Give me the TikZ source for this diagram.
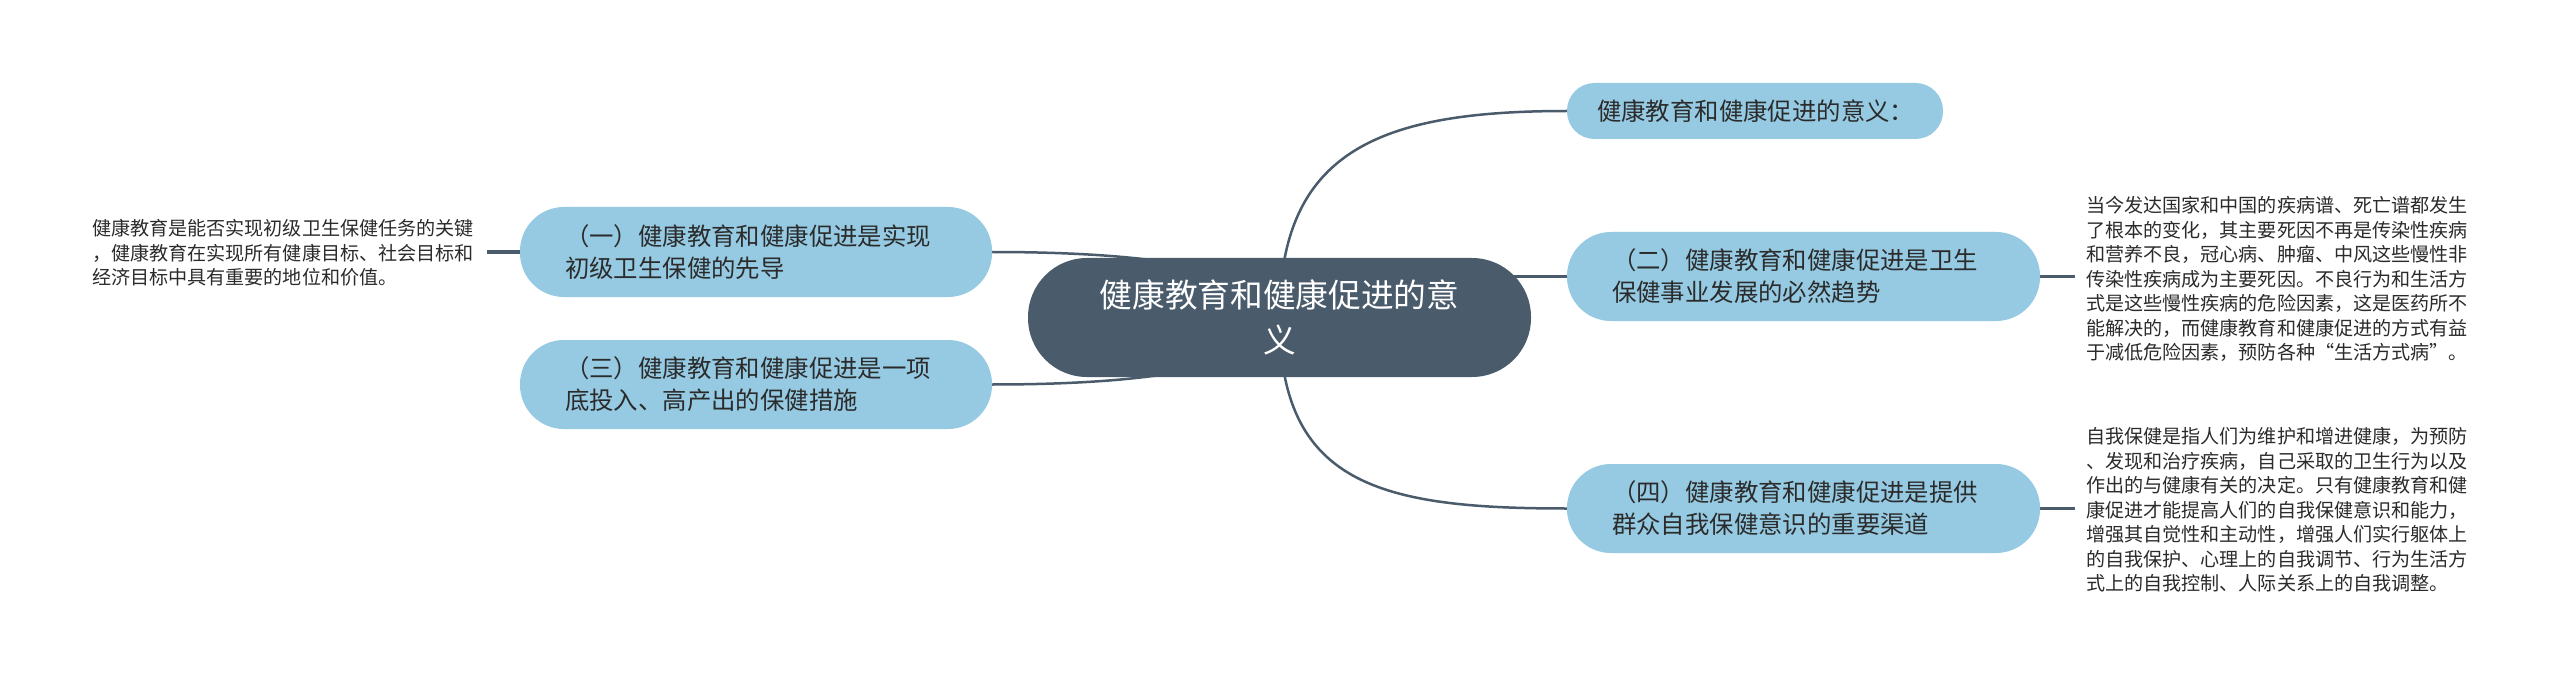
\documentclass[tikz,border=0pt]{standalone}
\usepackage{fontspec}
\newfontfamily\cjk{Noto Sans CJK SC}
\usetikzlibrary{backgrounds}
\definecolor{slate}{HTML}{4A5C6C}
\definecolor{sky}{HTML}{95CAE2}
\definecolor{ink}{HTML}{2B2B2B}
\definecolor{linec}{HTML}{4A5C6C}
\begin{document}
\begin{tikzpicture}[x=1pt,y=-1pt,
  sub/.style={fill=sky, inner sep=0pt, align=left, text=ink,
    font=\cjk\fontsize{24.4pt}{32pt}\selectfont},
  det/.style={inner sep=0pt, inner xsep=11pt, text width=384pt, align=left, text=ink,
    font=\cjk\fontsize{19.1pt}{24.5pt}\selectfont},
  conn/.style={draw=linec, line width=2.5pt},
  shortconn/.style={draw=linec, line width=3.5pt}]
\useasboundingbox (0,0) rectangle (2560,687);

\node[fill=slate, text=white, inner sep=0pt, minimum width=503pt, minimum height=119pt,
  rounded corners=59pt, align=center, font=\cjk\fontsize{32.7pt}{45pt}\selectfont]
  (c) at (1279.5,317.5) {健康教育和健康促进的意\\义};

\node[sub, minimum width=376pt, minimum height=56pt, rounded corners=27.5pt, text width=316pt]
  (n0) at (1755,111) {健康教育和健康促进的意义：};
\node[sub, minimum width=473pt, minimum height=89pt, rounded corners=44pt, text width=383pt]
  (n2) at (1803.5,276.5) {（二）健康教育和健康促进是卫生\\保健事业发展的必然趋势};
\node[sub, minimum width=473pt, minimum height=89pt, rounded corners=44pt, text width=383pt]
  (n4) at (1803.5,508.5) {（四）健康教育和健康促进是提供\\群众自我保健意识的重要渠道};
\node[sub, minimum width=472pt, minimum height=90pt, rounded corners=44pt, text width=382pt]
  (n1) at (756,252) {（一）健康教育和健康促进是实现\\初级卫生保健的先导};
\node[sub, minimum width=472pt, minimum height=89pt, rounded corners=44pt, text width=382pt]
  (n3) at (756,384.5) {（三）健康教育和健康促进是一项\\底投入、高产出的保健措施};

\node[det] (ld) at (284,253) {健康教育是能否实现初级卫生保健任务的关键\\，健康教育在实现所有健康目标、社会目标和\\经济目标中具有重要的地位和价值。};
\node[det] (d2) at (2278,279) {当今发达国家和中国的疾病谱、死亡谱都发生\\了根本的变化，其主要死因不再是传染性疾病\\和营养不良，冠心病、肿瘤、中风这些慢性非\\传染性疾病成为主要死因。不良行为和生活方\\式是这些慢性疾病的危险因素，这是医药所不\\能解决的，而健康教育和健康促进的方式有益\\于减低危险因素，预防各种“生活方式病”。};
\node[det] (d4) at (2278,510) {自我保健是指人们为维护和增进健康，为预防\\、发现和治疗疾病，自己采取的卫生行为以及\\作出的与健康有关的决定。只有健康教育和健\\康促进才能提高人们的自我保健意识和能力，\\增强其自觉性和主动性，增强人们实行躯体上\\的自我保护、心理上的自我调节、行为生活方\\式上的自我控制、人际关系上的自我调整。};

\begin{scope}[on background layer]
  \fill[white] (0,0) rectangle (2560,687);
  \draw[conn] (c.center) .. controls +(0,-167) and +(-187,0) .. (n0.west);
  \draw[conn] (c.center) .. controls +(0,167) and +(-187,0) .. (n4.west);
  \draw[conn] (n2.west) -- (n2.west -| c.center);
  \draw[conn] (n1.east) .. controls +(238,0) and +(0,-27) .. (c.center);
  \draw[conn] (n3.east) .. controls +(238,0) and +(0,27) .. (c.center);
  \draw[shortconn] (n1.west) -- (n1.west -| ld.east);
  \draw[shortconn] (n2.east) -- (n2.east -| d2.west);
  \draw[shortconn] (n4.east) -- (n4.east -| d4.west);
\end{scope}
\end{tikzpicture}
\end{document}
